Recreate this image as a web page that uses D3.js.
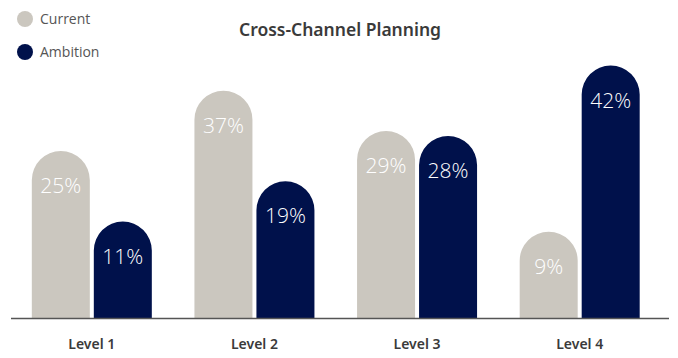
<!DOCTYPE html>
<html>
<head>
<meta charset="utf-8">
<script src="https://cdn.jsdelivr.net/npm/d3@7"></script>
<style>
  html, body { margin: 0; padding: 0; background: #fff; }
  svg { display: block; }
</style>
</head>
<body>
<svg id="chart" width="678" height="358"></svg>
<script>
// Cross-channel planning maturity: current state vs. ambition per level
const levels = ["Level 1", "Level 2", "Level 3", "Level 4"];
const seriesNames = ["Current", "Ambition"];
const currentValues = [25, 37, 29, 9];
const ambitionValues = [11, 19, 28, 42];
const colors = { Current: "#cbc7bf", Ambition: "#00114b" };

const svg = d3.select("#chart");
const baseline = 318.5;

const rows = levels.map((lv, i) => ({
  level: lv,
  values: [
    { key: "Current", value: currentValues[i] },
    { key: "Ambition", value: ambitionValues[i] }
  ]
}));

const x0 = d3.scaleBand().domain(levels).range([10.5, 661]).padding(0);
const x1 = d3.scaleBand().domain(seriesNames).range([-60, 60]).paddingInner(0.0645);
// bars keep a short stub below the value range so rounded caps never clip
const y = d3.scaleLinear().domain([0, 42]).range([baseline - 41.5, baseline - 253]);

const bw = x1.bandwidth();

function capBar(x, yTop, w) {
  const rr = w / 2;
  return `M${x},${baseline}V${yTop + rr}A${rr},${rr} 0 0 1 ${x + w},${yTop + rr}V${baseline}Z`;
}

const groups = svg.append("g").selectAll("g")
  .data(rows).join("g")
  .attr("transform", d => `translate(${x0(d.level) + x0.bandwidth() / 2},0)`);

groups.selectAll("path")
  .data(d => d.values).join("path")
  .attr("d", d => capBar(x1(d.key), y(d.value), bw))
  .attr("fill", d => colors[d.key]);

groups.selectAll("text.val")
  .data(d => d.values).join("text")
  .attr("class", "val")
  .attr("x", d => x1(d.key) + bw / 2)
  .attr("y", d => y(d.value) + 42)
  .attr("text-anchor", "middle")
  .attr("fill", "#ffffff")
  .style("font-family", "'Open Sans', 'Noto Sans', sans-serif")
  .style("font-weight", 300)
  .style("font-size", "21px")
  .text(d => d.value + "%");

// baseline axis with category labels
const axis = d3.axisBottom(x0).tickSize(0).tickPadding(21);
const ax = svg.append("g").attr("transform", `translate(0,${baseline})`).call(axis);
ax.select(".domain").attr("d", "M11,0H669").attr("stroke", "#555").attr("stroke-width", 1.6);
ax.selectAll("text")
  .attr("fill", "#3a3a3a")
  .style("font-family", "'Noto Sans', 'Open Sans', sans-serif")
  .style("font-weight", 600)
  .style("font-size", "14px");

// title
svg.append("text")
  .attr("x", 340).attr("y", 36)
  .attr("text-anchor", "middle")
  .attr("fill", "#3a3a3a")
  .style("font-family", "'Noto Sans', 'Open Sans', sans-serif")
  .style("font-weight", 600)
  .style("font-size", "17.5px")
  .text("Cross-Channel Planning");

// legend
const legend = svg.append("g").selectAll("g")
  .data(seriesNames).join("g")
  .attr("transform", (d, i) => `translate(25,${19 + i * 33})`);
legend.append("circle").attr("r", 8).attr("fill", d => colors[d]);
legend.append("text")
  .attr("x", 15).attr("y", 5)
  .attr("fill", "#555")
  .style("font-family", "'Open Sans', 'Noto Sans', sans-serif")
  .style("font-weight", 400)
  .style("font-size", "14px")
  .text(d => d);
</script>
</body>
</html>
